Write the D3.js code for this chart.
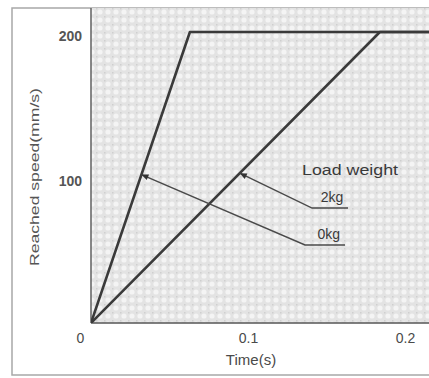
<!DOCTYPE html>
<html>
<head>
<meta charset="utf-8">
<script src="https://cdn.jsdelivr.net/npm/d3@7"></script>
<style>
  body { margin: 0; background: #fff; }
  svg { display: block; font-family: "Liberation Sans", Arial, sans-serif; }
</style>
</head>
<body>
<div id="chart"></div>
<script>
// curves: time (s) vs reached speed (mm/s)
const times0kg = [0, 0.063, 0.23];
const speed0kg = [0, 200, 200];
const times2kg = [0, 0.184, 0.23];
const speed2kg = [0, 200, 200];

const xTicks = [0, 0.1, 0.2];
const xTickLabels = ["0", "0.1", "0.2"];
const yTicks = [100, 200];
const yTickLabels = ["100", "200"];

const legendTitle = "Load weight";
const seriesNames = ["2kg", "0kg"];

const width = 429, height = 378;
const plot = {left: 91, top: 8, right: 440, bottom: 323};

const svg = d3.select("#chart").append("svg")
    .attr("width", width)
    .attr("height", height);

// halftone-ish screen of the scanned figure
const defs = svg.append("defs");
const pat = defs.append("pattern")
    .attr("id", "screen")
    .attr("width", 8).attr("height", 8)
    .attr("patternUnits", "userSpaceOnUse");
pat.append("rect").attr("width", 8).attr("height", 8).attr("fill", "#e3e3e3");
pat.append("circle").attr("cx", 4).attr("cy", 4).attr("r", 2.6).attr("fill", "#f4f4f4");
pat.append("rect").attr("x", 0).attr("y", 0).attr("width", 1.5).attr("height", 1.5).attr("fill", "#cfcfcf");

defs.append("clipPath").attr("id", "clip")
  .append("rect")
    .attr("x", plot.left).attr("y", plot.top)
    .attr("width", plot.right - plot.left).attr("height", plot.bottom - plot.top);

// outer frame
svg.append("path")
    .attr("d", "M" + (width + 5) + ",8 H12 V375 H" + (width + 5))
    .attr("fill", "none")
    .attr("stroke", "#a8a8a8")
    .attr("stroke-width", 1.5);

svg.append("rect")
    .attr("x", plot.left).attr("y", plot.top)
    .attr("width", plot.right - plot.left).attr("height", plot.bottom - plot.top)
    .attr("fill", "url(#screen)");

const x = d3.scaleLinear().domain([0, 0.2]).range([91, 405]);
const y = d3.scaleLinear().domain([0, 200]).range([323, 32]);

// axes lines
svg.append("line")
    .attr("x1", plot.left).attr("x2", plot.left)
    .attr("y1", plot.top).attr("y2", plot.bottom)
    .attr("stroke", "#6a6a6a").attr("stroke-width", 1.6);
svg.append("line")
    .attr("x1", plot.left).attr("x2", plot.right)
    .attr("y1", plot.bottom).attr("y2", plot.bottom)
    .attr("stroke", "#555").attr("stroke-width", 1.6);

// tick labels
const xAxis = d3.axisBottom(x)
    .tickValues(xTicks)
    .tickSize(0)
    .tickPadding(10)
    .tickFormat((d, i) => xTickLabels[i]);
const gx = svg.append("g")
    .attr("transform", "translate(0," + plot.bottom + ")")
    .call(xAxis);
gx.select(".domain").remove();
gx.selectAll("text")
    .attr("font-size", 14)
    .attr("fill", "#4a4a4a")
    .attr("font-family", "Liberation Sans, Arial, sans-serif")
    .attr("dx", (d) => d === 0 ? -11 : 0);

const yAxis = d3.axisLeft(y)
    .tickValues(yTicks)
    .tickSize(0)
    .tickPadding(9)
    .tickFormat((d, i) => yTickLabels[i]);
const gy = svg.append("g")
    .attr("transform", "translate(" + plot.left + ",0)")
    .call(yAxis);
gy.select(".domain").remove();
gy.selectAll("text")
    .attr("font-size", 14)
    .attr("font-weight", "bold")
    .attr("fill", "#555")
    .attr("font-family", "Liberation Sans, Arial, sans-serif")
    .attr("dy", "0.6em");

// axis titles
svg.append("text")
    .attr("x", 251).attr("y", 365)
    .attr("text-anchor", "middle")
    .attr("font-size", 15)
    .attr("fill", "#4a4a4a")
    .text("Time(s)");

svg.append("text")
    .attr("transform", "translate(39,177) rotate(-90)")
    .attr("text-anchor", "middle")
    .attr("font-size", 12.5)
    .attr("textLength", 178)
    .attr("lengthAdjust", "spacingAndGlyphs")
    .attr("fill", "#555")
    .text("Reached speed(mm/s)");

// curves
const line = d3.line().x((d) => x(d[0])).y((d) => y(d[1]));
const curves = [d3.zip(times0kg, speed0kg), d3.zip(times2kg, speed2kg)];
svg.append("g")
    .attr("clip-path", "url(#clip)")
  .selectAll("path")
  .data(curves)
  .join("path")
    .attr("d", line)
    .attr("fill", "none")
    .attr("stroke", "#3a3a3a")
    .attr("stroke-width", 2.6)
    .attr("stroke-linejoin", "round");

// annotation leaders (anchor on curve -> elbow -> end of underline), data units
const anchor2 = [times2kg[1] * 103 / 200, 103];
const anchor0 = [times0kg[1] * 102 / 200, 102];
const leaders = [
  {name: seriesNames[0], pts: [anchor2, [0.1408, 79], [0.1637, 79]], label: [0.1535, 83]},
  {name: seriesNames[1], pts: [anchor0, [0.1363, 53.6], [0.1618, 53.6]], label: [0.1515, 57.5]}
];

const ann = svg.append("g");
ann.selectAll("path")
  .data(leaders)
  .join("path")
    .attr("d", (d) => line(d.pts))
    .attr("fill", "none")
    .attr("stroke", "#4a4a4a")
    .attr("stroke-width", 1.5);

// small arrow heads at the curves
ann.selectAll("path.head")
  .data(leaders)
  .join("path")
    .attr("class", "head")
    .attr("transform", (d) => {
      const p0 = d.pts[0], p1 = d.pts[1];
      const a = Math.atan2(y(p0[1]) - y(p1[1]), x(p0[0]) - x(p1[0])) * 180 / Math.PI;
      return "translate(" + x(p0[0]) + "," + y(p0[1]) + ") rotate(" + a + ")";
    })
    .attr("d", "M0,0 L-7,-3 L-7,3 Z")
    .attr("fill", "#333");

ann.selectAll("text")
  .data(leaders)
  .join("text")
    .attr("x", (d) => x(d.label[0]))
    .attr("y", (d) => y(d.label[1]))
    .attr("text-anchor", "middle")
    .attr("font-size", 14)
    .attr("fill", "#3a3a3a")
    .text((d) => d.name);

svg.append("text")
    .attr("x", x(0.165)).attr("y", y(101.5))
    .attr("text-anchor", "middle")
    .attr("font-size", 14)
    .attr("textLength", 96)
    .attr("lengthAdjust", "spacingAndGlyphs")
    .attr("fill", "#3a3a3a")
    .text(legendTitle);
</script>
</body>
</html>
